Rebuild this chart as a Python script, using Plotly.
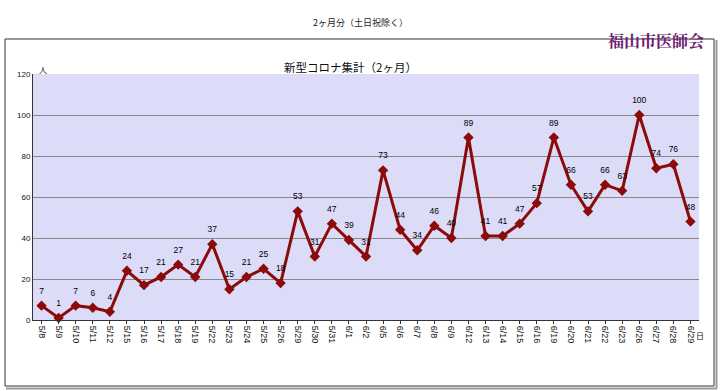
import plotly.graph_objects as go

dates = ["5/8","5/9","5/10","5/11","5/12","5/15","5/16","5/17","5/18","5/19",
         "5/22","5/23","5/24","5/25","5/26","5/29","5/30","5/31","6/1","6/2",
         "6/5","6/6","6/7","6/8","6/9","6/12","6/13","6/14","6/15","6/16",
         "6/19","6/20","6/21","6/22","6/23","6/26","6/27","6/28","6/29"]
cases = [7,1,7,6,4,24,17,21,27,21,37,15,21,25,18,53,31,47,39,31,
         73,44,34,46,40,89,41,41,47,57,89,66,53,66,63,100,74,76,48]
y_ticks = [0,20,40,60,80,100,120]

font_jp = "Noto Sans CJK JP, Noto Sans, sans-serif"

FW, FH = 720, 391
L, R, T, B = 33, 699, 74, 320   # plot area in page px
PW, PH = R - L, B - T
def px(x):
    return (x - L) / PW
def py(y):
    return (B - y) / PH

xs = list(range(len(dates)))
fig = go.Figure()
fig.add_trace(go.Scatter(
    x=xs, y=cases,
    mode="lines+markers",
    line=dict(color="#8B0A0A", width=3),
    marker=dict(symbol="diamond", size=8, color="#8B0A0A"),
    cliponaxis=False,
    hoverinfo="skip",
))
# data labels (invisible markers give the label offset)
fig.add_trace(go.Scatter(
    x=xs, y=cases,
    mode="markers+text",
    marker=dict(size=14, opacity=0),
    text=[str(v) for v in cases],
    textposition="top center",
    textfont=dict(size=8.5, color="#000000", family="Arial, Liberation Sans, sans-serif"),
    cliponaxis=False,
    hoverinfo="skip",
))

fig.update_layout(
    width=FW, height=FH,
    margin=dict(l=L, r=FW - R, t=T, b=FH - B, autoexpand=False),
    paper_bgcolor="white",
    plot_bgcolor="#DCDCF8",
    showlegend=False,
    font=dict(family=font_jp, size=9, color="#111111"),
    xaxis=dict(
        tickmode="array", tickvals=xs, ticktext=dates,
        range=[-0.5, len(dates) - 0.5],
        tickangle=90, ticks="outside", ticklen=3, tickcolor="#333",
        showgrid=False, zeroline=False,
        showline=True, linecolor="#333", linewidth=1,
        tickfont=dict(size=9, family="Arial, Liberation Sans, sans-serif", color="#111"),
    ),
    yaxis=dict(
        range=[0, 120], tickvals=y_ticks,
        showgrid=True, gridcolor="#888888", gridwidth=1,
        zeroline=False, showline=True, linecolor="#333", linewidth=1,
        ticks="", tickfont=dict(size=8, family="Arial, Liberation Sans, sans-serif", color="#111"),
    ),
)

# Frame around the chart
fig.add_shape(type="rect", xref="paper", yref="paper",
              x0=px(5), x1=px(714), y0=py(386), y1=py(39),
              line=dict(color="#333", width=1), fillcolor="rgba(0,0,0,0)", layer="below")
fig.add_shape(type="line", xref="paper", yref="paper",
              x0=px(6), x1=px(717), y0=py(388.5), y1=py(388.5),
              line=dict(color="#999", width=2))
fig.add_shape(type="line", xref="paper", yref="paper",
              x0=px(716.5), x1=px(716.5), y0=py(388.5), y1=py(40),
              line=dict(color="#999", width=2))

# Texts
fig.add_annotation(text="2ヶ月分（土日祝除く）", xref="paper", yref="paper",
                   x=px(360), y=py(14), showarrow=False,
                   font=dict(size=9, family=font_jp, color="#222"))
fig.add_annotation(text="<b>福山市医師会</b>", xref="paper", yref="paper",
                   x=px(706), y=py(27), xanchor="right", showarrow=False,
                   font=dict(size=16, family="Noto Serif CJK JP, Noto Sans CJK JP, serif", color="#6E1A70"))
fig.add_annotation(text="新型コロナ集計（2ヶ月）", xref="paper", yref="paper",
                   x=px(350), y=py(57), showarrow=False,
                   font=dict(size=11.5, family=font_jp, color="#111"))
fig.add_annotation(text="人", xref="paper", yref="paper",
                   x=px(37), y=py(62), showarrow=False,
                   font=dict(size=8, family=font_jp, color="#111"))
fig.add_annotation(text="日", xref="paper", yref="paper",
                   x=px(706), y=py(343), showarrow=False,
                   font=dict(size=8, family=font_jp, color="#111"))

fig.write_html("out.html",
               config={"displayModeBar": False},
               post_script="document.body.style.margin='0';document.body.style.overflow='hidden';")
